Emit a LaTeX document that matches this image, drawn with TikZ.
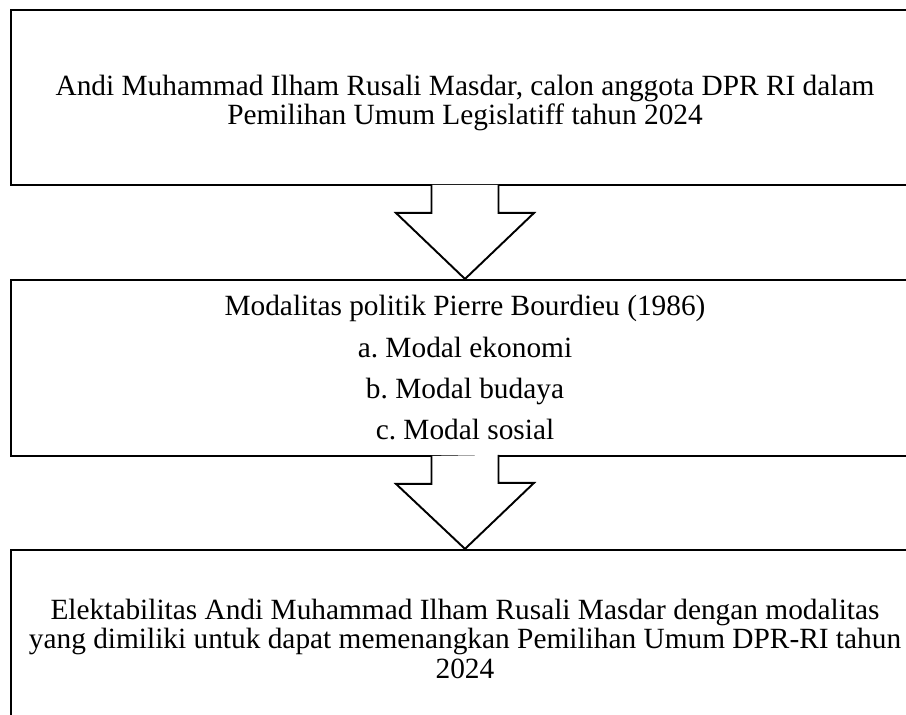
\documentclass[tikz,border=0pt]{standalone}
\usepackage{fontspec}
\setmainfont{Liberation Serif}
\usetikzlibrary{positioning}
\frenchspacing

\tikzset{
  kotak/.style={draw, line width=1.1pt, minimum width=18.16cm, inner sep=0pt,
    align=center, font=\fontsize{16.7}{16.8}\selectfont},
  teks/.style={inner sep=0pt, align=center, font=\fontsize{16.7}{17}\selectfont},
  panah/.style={draw, line width=1.1pt, fill=white}
}

\begin{document}
\begin{tikzpicture}
        \useasboundingbox (0,0) rectangle (18.12,-14.30);

        %boxes
        \node[kotak, minimum height=3.5cm] (calon) at (9.30,-1.95) {};
        \node[teks] (teks calon) at ([yshift=-0.11cm]calon.center)
            {Andi Muhammad Ilham Rusali Masdar, calon anggota DPR RI dalam\\
             Pemilihan Umum Legislatiff tahun 2024};
        \node[kotak, minimum height=3.52cm, font=\fontsize{16.7}{23.5}\selectfont,
              below=1.86cm of calon] (modal)
            {Modalitas politik Pierre Bourdieu (1986)\\
             a. Modal ekonomi\\
             b. Modal budaya\\
             c. Modal sosial};
        \node[kotak, minimum height=3.56cm, below=1.84cm of modal] (hasil)
            {Elektabilitas Andi Muhammad Ilham Rusali Masdar dengan modalitas\\
             yang dimiliki untuk dapat memenangkan Pemilihan Umum DPR-RI tahun\\
             2024};

        %arrows
        \draw[panah] ([xshift=-0.67cm,yshift=0.02cm]calon.south) -- ++(0,-0.56)
            -- ++(-0.71,0) -- (modal.north) -- ++(1.38,1.32) -- ++(-0.71,0) -- ++(0,0.56);
        \draw[panah] ([xshift=-0.67cm,yshift=0.02cm]modal.south) -- ++(0,-0.56)
            -- ++(-0.71,0) -- (hasil.north) -- ++(1.38,1.32) -- ++(-0.71,0) -- ++(0,0.56);
    \end{tikzpicture}
\end{document}
